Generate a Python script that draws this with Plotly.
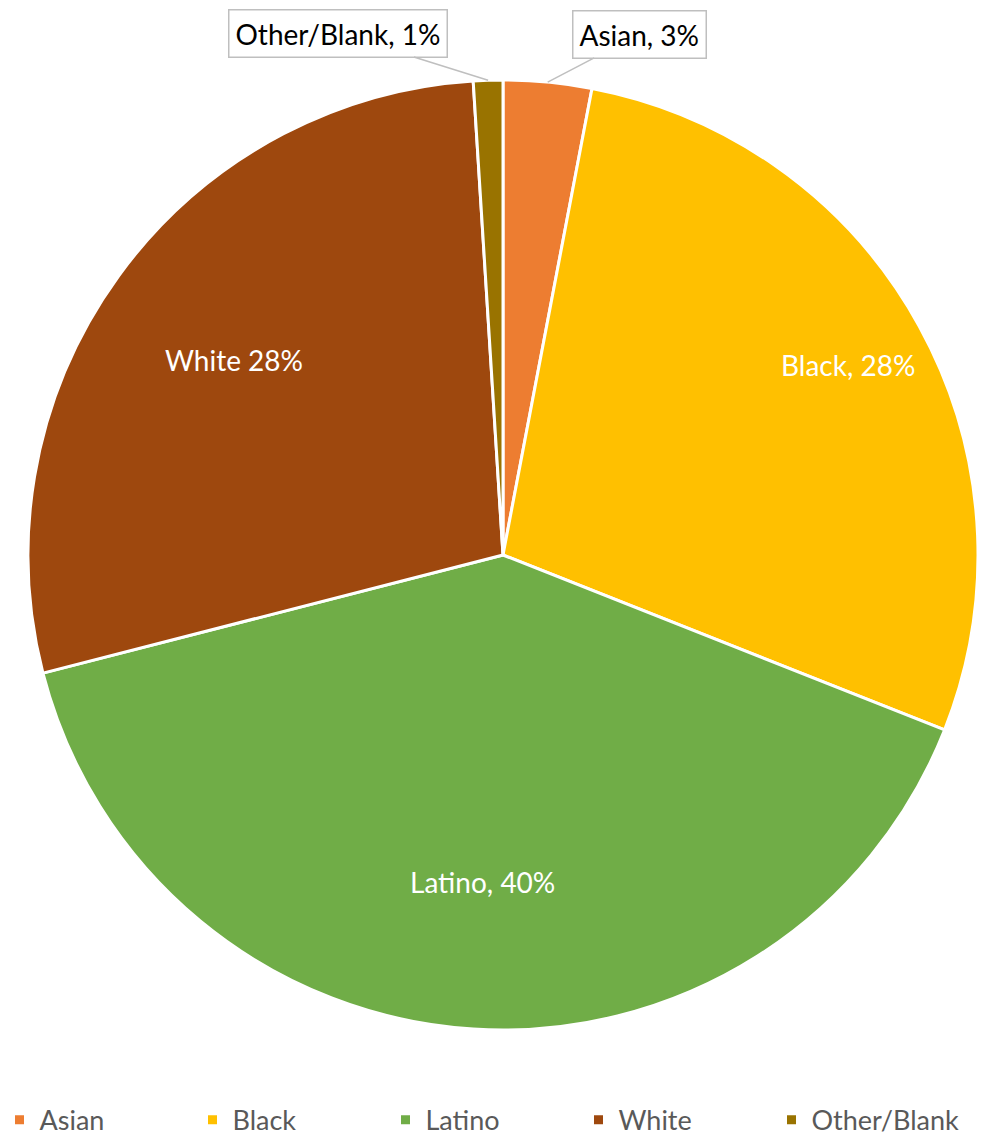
import math
import plotly.graph_objects as go

categories = ["Asian", "Black", "Latino", "White", "Other/Blank"]
values = [3, 28, 40, 28, 1]
label_text = ["Asian, 3%", "Black, 28%", "Latino, 40%", "White 28%", "Other/Blank, 1%"]
colors = ["#ED7D31", "#FFC000", "#70AD47", "#9E480E", "#997300"]

# label placement style: (kind, radius fraction or pixel offset)
label_style = {
    "Asian": ("out", 92, -48),
    "Black": ("in", 0.83),
    "Latino": ("in", 0.69),
    "White": ("in", 0.70),
    "Other/Blank": ("out", -150, -47),
}

FONT = "Lato, Open Sans, sans-serif"
W, H = 1000, 1127
ml, mr, mt, mb = 20, 30, 72, 105

fig = go.Figure(go.Pie(
    labels=categories, values=values, sort=False, direction="clockwise",
    rotation=0, marker=dict(colors=colors, line=dict(color="white", width=3)),
    textinfo="none", hoverinfo="label+percent",
))

total = sum(values)
cum = 0
annotations = []
for cat, v, txt in zip(categories, values, label_text):
    mid = (cum + v / 2) / total * 2 * math.pi
    cum += v
    st = label_style[cat]
    if st[0] == "in":
        f = st[1]
        annotations.append(dict(
            x=0.5 + 0.5 * f * math.sin(mid), y=0.5 + 0.5 * f * math.cos(mid),
            xref="paper", yref="paper", text=txt, showarrow=False,
            xanchor="center", yanchor="middle",
            font=dict(family=FONT, size=28, color="white")))
    else:
        annotations.append(dict(
            x=0.5 + 0.5 * math.sin(mid), y=0.5 + 0.5 * math.cos(mid),
            xref="paper", yref="paper", text=txt, showarrow=True,
            arrowhead=0, arrowwidth=1.5, arrowcolor="#BFBFBF",
            ax=st[1], ay=st[2], bordercolor="#BFBFBF", borderwidth=1.5,
            borderpad=6, bgcolor="white",
            font=dict(family=FONT, size=28, color="black")))

fig.update_layout(
    width=W, height=H, paper_bgcolor="white", plot_bgcolor="white",
    margin=dict(l=ml, r=mr, t=mt, b=mb, autoexpand=False),
    annotations=annotations,
    font=dict(family=FONT),
    legend=dict(orientation="h", xref="paper", yref="paper",
                x=-0.03, xanchor="left", y=-0.095, yanchor="middle",
                font=dict(family=FONT, size=27, color="#595959"),
                entrywidth=148, entrywidthmode="pixels", traceorder="normal"),
)

fig.write_html("out.html")
